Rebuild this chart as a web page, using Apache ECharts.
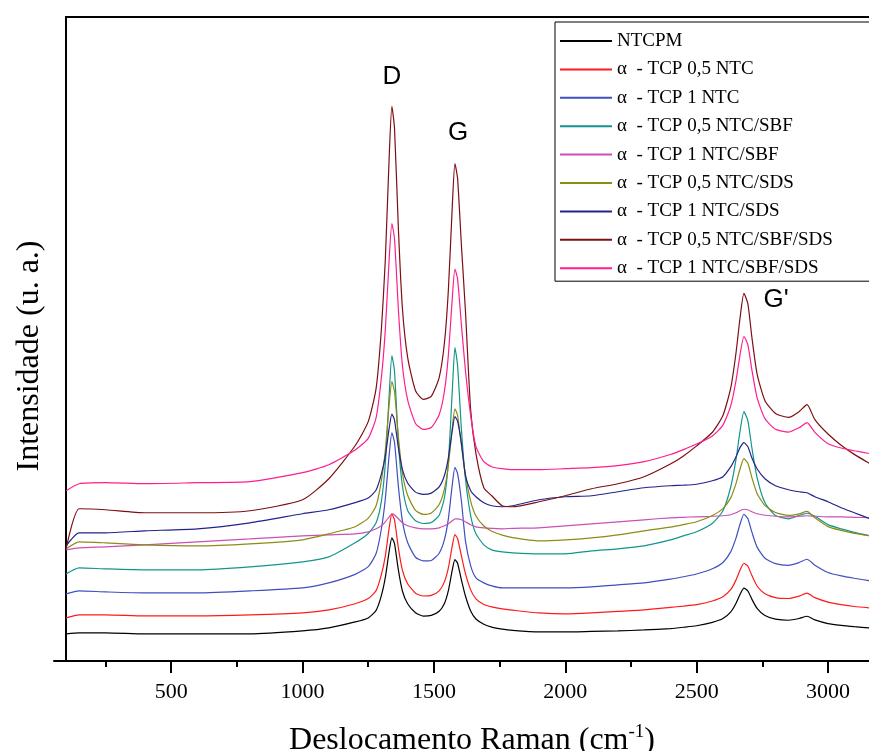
<!DOCTYPE html>
<html><head><meta charset="utf-8">
<script src="https://cdn.jsdelivr.net/npm/echarts@6/dist/echarts.min.js"></script>
<style>html,body{margin:0;padding:0;background:#fff}#c{width:869px;height:751px}</style>
</head><body><div id="c"></div>
<script>
// Raman shift (cm-1) sample positions shared by all spectra
const ramanShift = [100,150,250,400,600,800,1000,1100,1200,1250,1280,1300,1315,1330,1340,1350,1365,1380,1400,1430,1460,1490,1520,1540,1555,1570,1580,1590,1605,1620,1640,1660,1690,1720,1760,1800,1900,2000,2100,2200,2300,2400,2450,2500,2560,2600,2630,2650,2665,2680,2695,2710,2730,2760,2800,2850,2890,2920,2950,3000,3050,3100,3160];

// Intensities (u. a.)
const ntcpm = [27,28,28,27,27,27, 30,33,39,43,50.6, 65.2,83.2,110.1,122.9,117.2, 90.4,69.9,57.1,48.2,44.9, 45.6,49.7,57.5,70.3,91, 101.2,97.6,80.6,64.9,49.9, 41.9,36.7,33.9,31.9,30.6, 29,29,29.5,30,31, 32.4,33.7,35.2,38.6,42.4, 49.1,57.7,66.4,72.7,69.9, 61.8,52.6,45.4,41.8,40.7, 42.4,44.7,41,37.4,35.6, 34.3,33];
const tcp05ntc = [43,46,46,45,45,46, 48,51,57.2,62.3,70.3, 86.3,104.8,133.4,146.9,140.9, 112.5,90.8,77.1,67.7,64.9, 65.5,70,79,92.9,115.1, 126.2,122.3,104.6,87.2,71, 62,56.4,54,52,50.7, 48,47,48,49.5,51, 53.5,54.8,56.3,59.9,64.1, 71.4,81,90.7,97.6,94.6, 85.5,74.9,67.1,63.3,62.4, 64.8,67.7,63.3,58.8,56.3, 54.4,53];
const tcp1ntc = [67,70,69,68,68,70, 73,78,86.5,94.3,107.3, 131.8,161.8,206.6,227.8,218.4, 173.8,139.9,118.3,103.6,99.9, 100.4,107.6,121.1,141.9,176.3, 193.3,187.4,159,120,95, 83,78,75,73,73, 73,73,74,76,78, 81.7,84.1,86.9,92.1,98.3, 109.2,122.9,136.6,146.5,142, 128.9,113.7,102.6,97.2,95.5, 98.3,101.6,95.7,88.4,85, 82.6,80];
const tcp05sbf = [87,93,92,91,91,94, 99,104,118,127.3,138, 159.4,197,267,305,289.3, 217,175,150.3,140,137.3, 138.2,145.5,163,198.4,270, 313,295,230,182,145, 127,116,111,109,108, 107,107,110,112,115, 121,125,129,137.5,150, 174,201.5,229.2,248.9,239.8, 213.2,183.2,158,145.3,142, 145.3,147.5,144.5,136.2,131.9, 128.5,125];
const tcp1sbf = [111,113,114,116,119,122, 125,126,127,129,132, 135,139,144,147,146, 142,138,135,133,132, 132,133,135,137,140, 142,142,141,139,136, 134,133,132.5,132,132.5, 133,135,137,139,141, 143,143.5,144,144.5,145, 146,148,150,151.5,151, 149,147,145.5,144.5,144, 144.5,145,144.5,144,144, 143.5,143];
const tcp05sds = [112,119,118,116,115,117, 121,127,134,142.6,155, 179.8,210.4,256.8,278.9,269.1, 223,187.7,165.5,150.3,146.4, 147.8,156.2,171.5,195.4,233.1, 251.8,245.3,214.8,186,159.3, 144.7,134.8,129.5,125.7,123.2, 120,121,123,126,130, 133.7,136.2,139,145.3,152.2, 163.1,177.4,191.7,202,197.4, 183.3,167.3,155.1,148.3,145.3, 146.9,149.3,143,134.2,130.4, 127.5,125];
const tcp1sds = [115,128,128,130,132,138, 147,151,158.2,162.7,170.7, 186.5,204.7,233,246.5,240.6, 212.5,191.3,177.7,168.6,166.3, 167.6,173.8,185.2,202.9,230.4, 244.1,239.4,216.9,185,170, 164,158,155,154,155, 161,164,165,169,173, 175,175.5,176.5,180,184, 194,204,213,218,214, 203,192,182,175,171, 169,168,164,159,153, 148,142];
const tcp05sbfsds = [112,152,151,148,148,150, 161,182,214.9,239,272.2, 331,400.3,505,553.7,532.1, 430.2,352.5,303.2,269.8,261.2, 264.3,283,317.5,370.2,454.6, 496.6,482.1,413.7,349.4,250, 207,173,165,155,154, 159,165,172,177,184, 196.7,204.8,214.8,228.4,245.1, 272.9,308,342.2,367.1,356.6, 323.7,286.7,259.9,247.2,243.2, 249,256,241,226.6,215.4, 206.3,197];
const tcp1sbfsds = [170,177,178,177,178,179, 188,196,210.6,222.3,243.1, 282.8,330.4,402.6,436.8,421.6, 350,295.3,260.7,237.2,231.2, 233.1,245.8,269.3,305.2,362.8, 391.4,381.5,334.6,290.1,245, 214,199,194,192,191, 191,192,193,195,199, 206.2,211.1,216.6,224.7,235.5, 255,280.2,305.5,324,315.7, 291,262.9,242,231.3,228.6, 232.9,238,228.3,217,212.7, 209.9,207];

const seriesNames = ['NTCPM','α  - TCP 0,5 NTC','α  - TCP 1 NTC','α  - TCP 0,5 NTC/SBF','α  - TCP 1 NTC/SBF','α  - TCP 0,5 NTC/SDS','α  - TCP 1 NTC/SDS','α  - TCP 0,5 NTC/SBF/SDS','α  - TCP 1 NTC/SBF/SDS'];
const seriesValues = [ntcpm, tcp05ntc, tcp1ntc, tcp05sbf, tcp1sbf, tcp05sds, tcp1sds, tcp05sbfsds, tcp1sbfsds];
const seriesColors = ['#000000','#ff1a1a','#3f4fbf','#12958e','#c850b8','#8c8c14','#23238a','#7d0f12','#ff1e8e'];

const majorTicks = [500,1000,1500,2000,2500,3000];
const minorTicks = [250,750,1250,1750,2250,2750];
const peakLabels = ['D','G',"G'"];

const serif = "'Liberation Serif','Times New Roman',serif";
const sans = "'Liberation Sans',Arial,sans-serif";

const chart = echarts.init(document.getElementById('c'), null, {renderer:'canvas'});

const series = seriesNames.map((name, k) => ({
  type:'line', name, xAxisIndex:0, yAxisIndex:0,
  data: ramanShift.map((x, i) => [x, seriesValues[k][i]]),
  showSymbol:false, symbol:'none', smooth:0.2,
  lineStyle:{width:1.2, color:seriesColors[k]},
  itemStyle:{color:seriesColors[k]},
  emphasis:{disabled:true},
  silent:true
}));

const option = {
  animation:false,
  backgroundColor:'#fff',
  grid:{left:54, right:0, top:17, bottom:90, containLabel:false, outerBoundsMode:'none'},
  xAxis:[{
    type:'value', min:54, max:3156, position:'bottom',
    axisLine:{show:true, onZero:false, lineStyle:{color:'#000', width:2}},
    axisTick:{show:true, length:12, lineStyle:{color:'#000', width:2}, customValues:majorTicks},
    axisLabel:{show:true, customValues:majorTicks, margin:20, fontFamily:serif, fontSize:22, color:'#000', formatter:(v)=>String(v)},
    splitLine:{show:false},
    name:'{a|Deslocamento Raman (cm}{s|-1}{a|)}',
    nameLocation:'middle', nameGap:62,
    nameTextStyle:{padding:[0,0,0,21], rich:{
      a:{fontFamily:serif, fontSize:32, color:'#000'},
      s:{fontFamily:serif, fontSize:19, color:'#000', padding:[0,0,16,0]}
    }}
  },{
    type:'value', min:54, max:3156, position:'bottom',
    axisLine:{show:false, onZero:false},
    axisTick:{show:true, length:6, lineStyle:{color:'#000', width:2}, customValues:minorTicks},
    axisLabel:{show:false},
    splitLine:{show:false}
  }],
  yAxis:{
    type:'value', min:0, max:643, offset:-12,
    axisLine:{show:true, onZero:false, lineStyle:{color:'#000', width:2}},
    axisTick:{show:false}, axisLabel:{show:false}, splitLine:{show:false},
    name:'Intensidade (u. a.)', nameLocation:'middle', nameGap:20, nameRotate:90,
    nameTextStyle:{fontFamily:serif, fontSize:32, color:'#000', padding:[0,34,0,0]}
  },
  legend:{
    orient:'vertical', left:555, top:22,
    itemWidth:52, itemHeight:2, icon:'rect', itemGap:8.4,
    padding:[9,60,3,5],
    borderColor:'#000', borderWidth:1, backgroundColor:'#fff',
    textStyle:{fontFamily:serif, fontSize:19, color:'#000', lineHeight:20},
    data:seriesNames, selectedMode:false
  },
  graphic:[
    {type:'line', shape:{x1:65, y1:17, x2:869, y2:17}, style:{stroke:'#000', lineWidth:2}, z:10},
    {type:'text', x:392, y:77, style:{text:peakLabels[0], font:'26px '+sans, fill:'#000', align:'center', verticalAlign:'middle', textAlign:'center', textVerticalAlign:'middle'}},
    {type:'text', x:458, y:133, style:{text:peakLabels[1], font:'26px '+sans, fill:'#000', align:'center', verticalAlign:'middle', textAlign:'center', textVerticalAlign:'middle'}},
    {type:'text', x:776, y:300, style:{text:peakLabels[2], font:'26px '+sans, fill:'#000', align:'center', verticalAlign:'middle', textAlign:'center', textVerticalAlign:'middle'}}
  ],
  series
};
chart.setOption(option);
</script></body></html>
